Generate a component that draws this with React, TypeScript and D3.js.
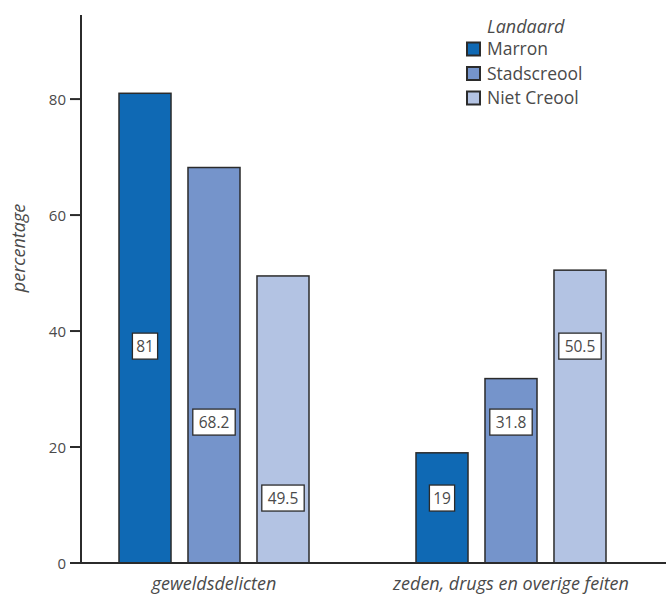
import React from "react";
import * as d3 from "d3";

const groups = ["geweldsdelicten", "zeden, drugs en overige feiten"];
const series = ["Marron", "Stadscreool", "Niet Creool"];
const marron = [81, 19];
const stadscreool = [68.2, 31.8];
const nietCreool = [49.5, 50.5];
const yTicks = [0, 20, 40, 60, 80];
const colors = ["#0f69b4", "#7594cb", "#b3c3e3"];

const W = 666;
const H = 594;
const axisX = 81;
const baseY = 563;
const topY = 15;
const font = "'Open Sans', 'Noto Sans', sans-serif";
const textColor = "#4a4a4a";

export default function App() {
  const values = [marron, stadscreool, nietCreool];
  const y = d3.scaleLinear().domain([0, 94.5]).range([baseY, topY]);
  const x0 = d3.scaleBand<string>().domain(groups).range([65.5, 659.5]).padding(0);
  const bw = x0.bandwidth();
  const x1 = d3
    .scaleBand<string>()
    .domain(series)
    .range([bw / 2 - 95, bw / 2 + 95])
    .paddingInner(0.246)
    .paddingOuter(0);
  const labelLevels = [37.4, 24.3, 11.2];

  return (
    <svg width={W} height={H} style={{ position: "absolute", left: 0, top: 0 }}>
      <rect width={W} height={H} fill="#fff" />
      {groups.map((g, gi) => {
        const vals = series.map((_, si) => values[si][gi]);
        const sorted = [...vals].sort((a, b) => b - a);
        return (
          <g key={g} transform={`translate(${x0(g)},0)`}>
            {series.map((s, si) => {
              const v = vals[si];
              const bx = x1(s)!;
              const rank = sorted.indexOf(v);
              const ly = y(labelLevels[rank]);
              const txt = String(v);
              const boxW = txt.length * 8.6 + 8;
              return (
                <g key={s}>
                  <rect
                    x={bx}
                    y={y(v)}
                    width={x1.bandwidth()}
                    height={baseY - y(v)}
                    fill={colors[si]}
                    stroke="#2b2b2b"
                    strokeWidth={1.5}
                  />
                  <rect
                    x={bx + x1.bandwidth() / 2 - boxW / 2}
                    y={ly - 13}
                    width={boxW}
                    height={26}
                    fill="#fff"
                    stroke="#2b2b2b"
                    strokeWidth={1.3}
                  />
                  <text
                    x={bx + x1.bandwidth() / 2}
                    y={ly + 5.5}
                    textAnchor="middle"
                    fontFamily={font}
                    fontSize={15.5}
                    fill={textColor}
                  >
                    {txt}
                  </text>
                </g>
              );
            })}
            <text
              x={bw / 2}
              y={590}
              textAnchor="middle"
              fontFamily={font}
              fontStyle="italic"
              fontSize={18}
              fill={textColor}
            >
              {g}
            </text>
          </g>
        );
      })}
      {/* y axis */}
      <line x1={axisX} x2={axisX} y1={topY} y2={baseY} stroke="#2b2b2b" strokeWidth={2} />
      <line x1={70} x2={W} y1={baseY} y2={baseY} stroke="#2b2b2b" strokeWidth={2} />
      {yTicks.map((t) => (
        <g key={t}>
          <line x1={70} x2={axisX} y1={y(t)} y2={y(t)} stroke="#2b2b2b" strokeWidth={2} />
          <text
            x={66}
            y={y(t) + 5.5}
            textAnchor="end"
            fontFamily={font}
            fontSize={15}
            fill={textColor}
          >
            {t}
          </text>
        </g>
      ))}
      <text
        transform={`translate(25,248) rotate(-90)`}
        textAnchor="middle"
        fontFamily={font}
        fontStyle="italic"
        fontSize={18}
        fill={textColor}
      >
        percentage
      </text>
      {/* legend */}
      <text x={487} y={33} fontFamily={font} fontStyle="italic" fontSize={18} fill={textColor}>
        Landaard
      </text>
      {series.map((s, si) => (
        <g key={s} transform={`translate(0,${49 + si * 24.5})`}>
          <rect x={467} y={-6.5} width={13} height={13} fill={colors[si]} stroke="#2b2b2b" strokeWidth={2} />
          <text x={487} y={6} fontFamily={font} fontSize={17.5} fill={textColor}>
            {s}
          </text>
        </g>
      ))}
    </svg>
  );
}
